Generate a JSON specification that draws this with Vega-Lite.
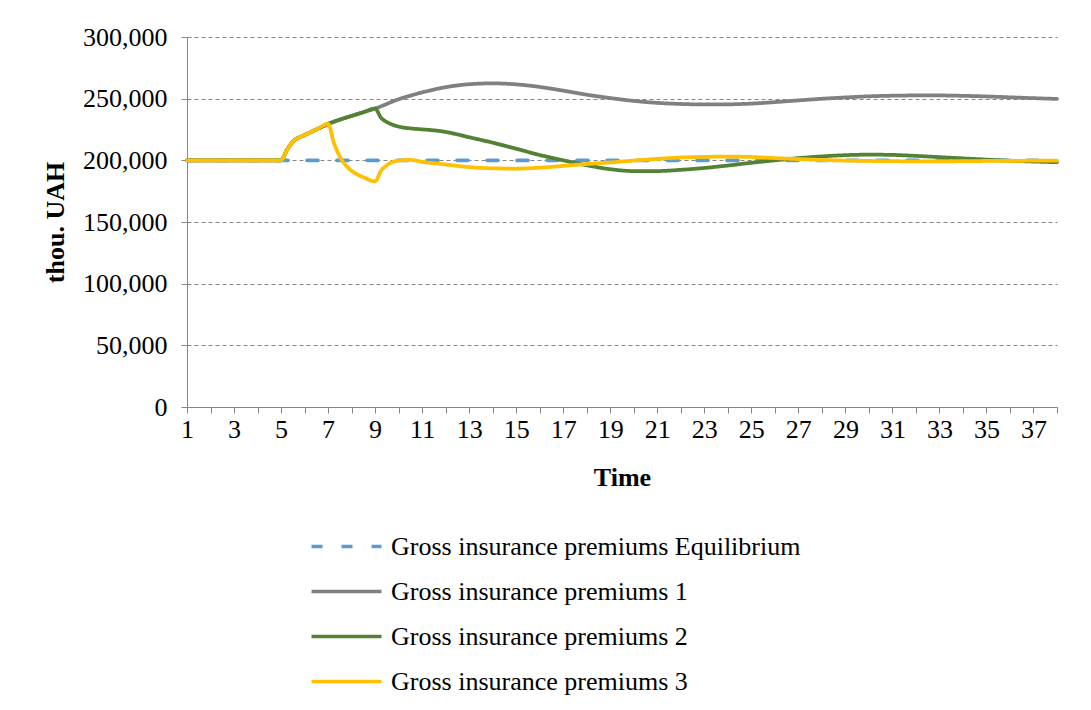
{
  "$schema": "https://vega.github.io/schema/vega-lite/v6.json",
  "width": 870,
  "height": 370,
  "autosize": {"type": "none"},
  "padding": {"left": 187, "top": 37, "right": 34, "bottom": 303},
  "background": "white",
  "config": {"view": {"stroke": null}, "font": "Liberation Serif"},
  "data": {"values": [
    {"t":1,"series":"Gross insurance premiums Equilibrium","v":200000},{"t":2,"series":"Gross insurance premiums Equilibrium","v":200000},{"t":3,"series":"Gross insurance premiums Equilibrium","v":200000},{"t":4,"series":"Gross insurance premiums Equilibrium","v":200000},{"t":5,"series":"Gross insurance premiums Equilibrium","v":200000},{"t":6,"series":"Gross insurance premiums Equilibrium","v":200000},{"t":7,"series":"Gross insurance premiums Equilibrium","v":200000},{"t":8,"series":"Gross insurance premiums Equilibrium","v":200000},{"t":9,"series":"Gross insurance premiums Equilibrium","v":200000},{"t":10,"series":"Gross insurance premiums Equilibrium","v":200000},{"t":11,"series":"Gross insurance premiums Equilibrium","v":200000},{"t":12,"series":"Gross insurance premiums Equilibrium","v":200000},{"t":13,"series":"Gross insurance premiums Equilibrium","v":200000},{"t":14,"series":"Gross insurance premiums Equilibrium","v":200000},{"t":15,"series":"Gross insurance premiums Equilibrium","v":200000},{"t":16,"series":"Gross insurance premiums Equilibrium","v":200000},{"t":17,"series":"Gross insurance premiums Equilibrium","v":200000},{"t":18,"series":"Gross insurance premiums Equilibrium","v":200000},{"t":19,"series":"Gross insurance premiums Equilibrium","v":200000},{"t":20,"series":"Gross insurance premiums Equilibrium","v":200000},{"t":21,"series":"Gross insurance premiums Equilibrium","v":200000},{"t":22,"series":"Gross insurance premiums Equilibrium","v":200000},{"t":23,"series":"Gross insurance premiums Equilibrium","v":200000},{"t":24,"series":"Gross insurance premiums Equilibrium","v":200000},{"t":25,"series":"Gross insurance premiums Equilibrium","v":200000},{"t":26,"series":"Gross insurance premiums Equilibrium","v":200000},{"t":27,"series":"Gross insurance premiums Equilibrium","v":200000},{"t":28,"series":"Gross insurance premiums Equilibrium","v":200000},{"t":29,"series":"Gross insurance premiums Equilibrium","v":200000},{"t":30,"series":"Gross insurance premiums Equilibrium","v":200000},{"t":31,"series":"Gross insurance premiums Equilibrium","v":200000},{"t":32,"series":"Gross insurance premiums Equilibrium","v":200000},{"t":33,"series":"Gross insurance premiums Equilibrium","v":200000},{"t":34,"series":"Gross insurance premiums Equilibrium","v":200000},{"t":35,"series":"Gross insurance premiums Equilibrium","v":200000},{"t":36,"series":"Gross insurance premiums Equilibrium","v":200000},{"t":37,"series":"Gross insurance premiums Equilibrium","v":200000},{"t":38,"series":"Gross insurance premiums Equilibrium","v":200000},

    {"t":1,"series":"Gross insurance premiums 1","v":200000},{"t":2,"series":"Gross insurance premiums 1","v":200000},{"t":3,"series":"Gross insurance premiums 1","v":200000},{"t":4,"series":"Gross insurance premiums 1","v":200000},{"t":5,"series":"Gross insurance premiums 1","v":200000},{"t":5.25,"series":"Gross insurance premiums 1","v":208500},{"t":5.5,"series":"Gross insurance premiums 1","v":215000},{"t":6,"series":"Gross insurance premiums 1","v":220500},{"t":6.5,"series":"Gross insurance premiums 1","v":225000},{"t":7,"series":"Gross insurance premiums 1","v":229500},{"t":7.5,"series":"Gross insurance premiums 1","v":233000},{"t":8,"series":"Gross insurance premiums 1","v":236000},{"t":8.5,"series":"Gross insurance premiums 1","v":239000},{"t":9,"series":"Gross insurance premiums 1","v":242000},{"t":10,"series":"Gross insurance premiums 1","v":249500},{"t":11,"series":"Gross insurance premiums 1","v":255000},{"t":12,"series":"Gross insurance premiums 1","v":259300},{"t":13,"series":"Gross insurance premiums 1","v":261700},{"t":14,"series":"Gross insurance premiums 1","v":262400},{"t":15,"series":"Gross insurance premiums 1","v":261600},{"t":16,"series":"Gross insurance premiums 1","v":259500},{"t":17,"series":"Gross insurance premiums 1","v":256500},{"t":18,"series":"Gross insurance premiums 1","v":253200},{"t":19,"series":"Gross insurance premiums 1","v":250500},{"t":20,"series":"Gross insurance premiums 1","v":248200},{"t":21,"series":"Gross insurance premiums 1","v":246600},{"t":22,"series":"Gross insurance premiums 1","v":245700},{"t":23,"series":"Gross insurance premiums 1","v":245300},{"t":24,"series":"Gross insurance premiums 1","v":245400},{"t":25,"series":"Gross insurance premiums 1","v":246000},{"t":26,"series":"Gross insurance premiums 1","v":247200},{"t":27,"series":"Gross insurance premiums 1","v":248600},{"t":28,"series":"Gross insurance premiums 1","v":249900},{"t":29,"series":"Gross insurance premiums 1","v":251000},{"t":30,"series":"Gross insurance premiums 1","v":251900},{"t":31,"series":"Gross insurance premiums 1","v":252400},{"t":32,"series":"Gross insurance premiums 1","v":252600},{"t":33,"series":"Gross insurance premiums 1","v":252600},{"t":34,"series":"Gross insurance premiums 1","v":252300},{"t":35,"series":"Gross insurance premiums 1","v":251800},{"t":36,"series":"Gross insurance premiums 1","v":251100},{"t":37,"series":"Gross insurance premiums 1","v":250400},{"t":38,"series":"Gross insurance premiums 1","v":249800},

    {"t":1,"series":"Gross insurance premiums 2","v":200000},{"t":2,"series":"Gross insurance premiums 2","v":200000},{"t":3,"series":"Gross insurance premiums 2","v":200000},{"t":4,"series":"Gross insurance premiums 2","v":200000},{"t":5,"series":"Gross insurance premiums 2","v":200000},{"t":5.25,"series":"Gross insurance premiums 2","v":208500},{"t":5.5,"series":"Gross insurance premiums 2","v":215000},{"t":6,"series":"Gross insurance premiums 2","v":220500},{"t":6.5,"series":"Gross insurance premiums 2","v":225000},{"t":7,"series":"Gross insurance premiums 2","v":229500},{"t":7.5,"series":"Gross insurance premiums 2","v":233000},{"t":8,"series":"Gross insurance premiums 2","v":236000},{"t":8.5,"series":"Gross insurance premiums 2","v":239000},{"t":9,"series":"Gross insurance premiums 2","v":242000},{"t":9.25,"series":"Gross insurance premiums 2","v":234500},{"t":9.5,"series":"Gross insurance premiums 2","v":231000},{"t":9.75,"series":"Gross insurance premiums 2","v":228800},{"t":10,"series":"Gross insurance premiums 2","v":227300},{"t":10.5,"series":"Gross insurance premiums 2","v":225900},{"t":11,"series":"Gross insurance premiums 2","v":225100},{"t":11.5,"series":"Gross insurance premiums 2","v":224300},{"t":12,"series":"Gross insurance premiums 2","v":223000},{"t":12.5,"series":"Gross insurance premiums 2","v":221000},{"t":13,"series":"Gross insurance premiums 2","v":218700},{"t":14,"series":"Gross insurance premiums 2","v":214300},{"t":15,"series":"Gross insurance premiums 2","v":209400},{"t":16,"series":"Gross insurance premiums 2","v":204300},{"t":17,"series":"Gross insurance premiums 2","v":200000},{"t":18,"series":"Gross insurance premiums 2","v":196000},{"t":19,"series":"Gross insurance premiums 2","v":192800},{"t":20,"series":"Gross insurance premiums 2","v":191300},{"t":21,"series":"Gross insurance premiums 2","v":191300},{"t":22,"series":"Gross insurance premiums 2","v":192300},{"t":23,"series":"Gross insurance premiums 2","v":193800},{"t":24,"series":"Gross insurance premiums 2","v":195800},{"t":25,"series":"Gross insurance premiums 2","v":198000},{"t":26,"series":"Gross insurance premiums 2","v":200000},{"t":27,"series":"Gross insurance premiums 2","v":201800},{"t":28,"series":"Gross insurance premiums 2","v":203200},{"t":29,"series":"Gross insurance premiums 2","v":204200},{"t":30,"series":"Gross insurance premiums 2","v":204600},{"t":31,"series":"Gross insurance premiums 2","v":204400},{"t":32,"series":"Gross insurance premiums 2","v":203600},{"t":33,"series":"Gross insurance premiums 2","v":202600},{"t":34,"series":"Gross insurance premiums 2","v":201600},{"t":35,"series":"Gross insurance premiums 2","v":200600},{"t":36,"series":"Gross insurance premiums 2","v":199700},{"t":37,"series":"Gross insurance premiums 2","v":199000},{"t":38,"series":"Gross insurance premiums 2","v":198500},

    {"t":1,"series":"Gross insurance premiums 3","v":200000},{"t":2,"series":"Gross insurance premiums 3","v":200000},{"t":3,"series":"Gross insurance premiums 3","v":200000},{"t":4,"series":"Gross insurance premiums 3","v":200000},{"t":5,"series":"Gross insurance premiums 3","v":200000},{"t":5.25,"series":"Gross insurance premiums 3","v":208500},{"t":5.5,"series":"Gross insurance premiums 3","v":215000},{"t":6,"series":"Gross insurance premiums 3","v":220500},{"t":6.5,"series":"Gross insurance premiums 3","v":225000},{"t":7,"series":"Gross insurance premiums 3","v":229500},{"t":7.25,"series":"Gross insurance premiums 3","v":214000},{"t":7.5,"series":"Gross insurance premiums 3","v":203000},{"t":7.75,"series":"Gross insurance premiums 3","v":196000},{"t":8,"series":"Gross insurance premiums 3","v":191500},{"t":8.5,"series":"Gross insurance premiums 3","v":186300},{"t":9,"series":"Gross insurance premiums 3","v":183000},{"t":9.25,"series":"Gross insurance premiums 3","v":191500},{"t":9.5,"series":"Gross insurance premiums 3","v":196000},{"t":9.75,"series":"Gross insurance premiums 3","v":198700},{"t":10,"series":"Gross insurance premiums 3","v":199800},{"t":10.5,"series":"Gross insurance premiums 3","v":200300},{"t":11,"series":"Gross insurance premiums 3","v":198800},{"t":12,"series":"Gross insurance premiums 3","v":196600},{"t":13,"series":"Gross insurance premiums 3","v":194500},{"t":14,"series":"Gross insurance premiums 3","v":193500},{"t":15,"series":"Gross insurance premiums 3","v":193300},{"t":16,"series":"Gross insurance premiums 3","v":194000},{"t":17,"series":"Gross insurance premiums 3","v":195500},{"t":18,"series":"Gross insurance premiums 3","v":197000},{"t":19,"series":"Gross insurance premiums 3","v":198300},{"t":20,"series":"Gross insurance premiums 3","v":199800},{"t":21,"series":"Gross insurance premiums 3","v":201200},{"t":22,"series":"Gross insurance premiums 3","v":202300},{"t":23,"series":"Gross insurance premiums 3","v":202800},{"t":24,"series":"Gross insurance premiums 3","v":203000},{"t":25,"series":"Gross insurance premiums 3","v":202700},{"t":26,"series":"Gross insurance premiums 3","v":201800},{"t":27,"series":"Gross insurance premiums 3","v":201000},{"t":28,"series":"Gross insurance premiums 3","v":200300},{"t":29,"series":"Gross insurance premiums 3","v":199800},{"t":30,"series":"Gross insurance premiums 3","v":199500},{"t":31,"series":"Gross insurance premiums 3","v":199300},{"t":32,"series":"Gross insurance premiums 3","v":199200},{"t":33,"series":"Gross insurance premiums 3","v":199200},{"t":34,"series":"Gross insurance premiums 3","v":199300},{"t":35,"series":"Gross insurance premiums 3","v":199500},{"t":36,"series":"Gross insurance premiums 3","v":199600},{"t":37,"series":"Gross insurance premiums 3","v":199700},{"t":38,"series":"Gross insurance premiums 3","v":199800}
  ]},
  "encoding": {
    "x": {
      "field": "t", "type": "quantitative",
      "scale": {"domain": [1, 38], "nice": false, "zero": false},
      "axis": {
        "title": "Time",
        "values": [1,2,3,4,5,6,7,8,9,10,11,12,13,14,15,16,17,18,19,20,21,22,23,24,25,26,27,28,29,30,31,32,33,34,35,36,37,38],
        "labelExpr": "datum.value % 2 === 1 ? datum.label : ''",
        "labelFlush": false, "labelOverlap": false,
        "grid": false,
        "labelFont": "Liberation Serif", "labelFontSize": 26, "labelColor": "black", "labelPadding": 3,
        "titleFont": "Liberation Serif", "titleFontSize": 26, "titleFontWeight": "bold", "titleColor": "black", "titlePadding": 22,
        "tickSize": 6, "tickColor": "#868686", "domainColor": "#868686", "domainWidth": 1
      }
    },
    "y": {
      "field": "v", "type": "quantitative",
      "scale": {"domain": [0, 300000], "nice": false},
      "axis": {
        "title": "thou. UAH",
        "values": [0, 50000, 100000, 150000, 200000, 250000, 300000],
        "format": ",.0f",
        "labelFont": "Liberation Serif", "labelFontSize": 26, "labelColor": "black", "labelPadding": 14,
        "titleFont": "Liberation Serif", "titleFontSize": 26, "titleFontWeight": "bold", "titleColor": "black", "titlePadding": 14,
        "tickSize": 6, "tickColor": "#868686", "domainColor": "#868686", "domainWidth": 1,
        "grid": true, "gridColor": "#868686", "gridDash": [4, 3], "gridWidth": 1
      }
    },
    "color": {
      "field": "series", "type": "nominal",
      "scale": {
        "domain": ["Gross insurance premiums Equilibrium", "Gross insurance premiums 1", "Gross insurance premiums 2", "Gross insurance premiums 3"],
        "range": ["#5B9BD5", "#808080", "#548235", "#FFC000"]
      },
      "legend": {
        "title": null, "orient": "none", "legendX": 146, "legendY": 496, "direction": "vertical",
        "labelFont": "Liberation Serif", "labelFontSize": 26, "labelColor": "black", "labelLimit": 0,
        "symbolType": "M-3,0H3", "symbolSize": 544, "symbolStrokeWidth": 3.5, "labelOffset": 31, "rowPadding": 18
      }
    },
    "strokeDash": {
      "field": "series", "type": "nominal",
      "scale": {
        "domain": ["Gross insurance premiums Equilibrium", "Gross insurance premiums 1", "Gross insurance premiums 2", "Gross insurance premiums 3"],
        "range": [[11, 19], [1, 0], [1, 0], [1, 0]]
      },
      "legend": {
        "title": null, "orient": "none", "legendX": 146, "legendY": 496, "direction": "vertical",
        "labelFont": "Liberation Serif", "labelFontSize": 26, "labelColor": "black", "labelLimit": 0,
        "symbolType": "M-3,0H3", "symbolSize": 544, "symbolStrokeWidth": 3.5, "labelOffset": 31, "rowPadding": 18
      }
    }
  },
  "layer": [
    {"transform": [{"filter": "datum.series === 'Gross insurance premiums Equilibrium'"}], "mark": {"type": "line", "strokeWidth": 3.75, "strokeCap": "round", "interpolate": "monotone"}},
    {"transform": [{"filter": "datum.series === 'Gross insurance premiums 1'"}], "mark": {"type": "line", "strokeWidth": 3.75, "strokeCap": "round", "interpolate": "monotone"}},
    {"transform": [{"filter": "datum.series === 'Gross insurance premiums 2'"}], "mark": {"type": "line", "strokeWidth": 3.75, "strokeCap": "round", "interpolate": "monotone"}},
    {"transform": [{"filter": "datum.series === 'Gross insurance premiums 3'"}], "mark": {"type": "line", "strokeWidth": 3.75, "strokeCap": "round", "interpolate": "monotone"}}
  ]
}
